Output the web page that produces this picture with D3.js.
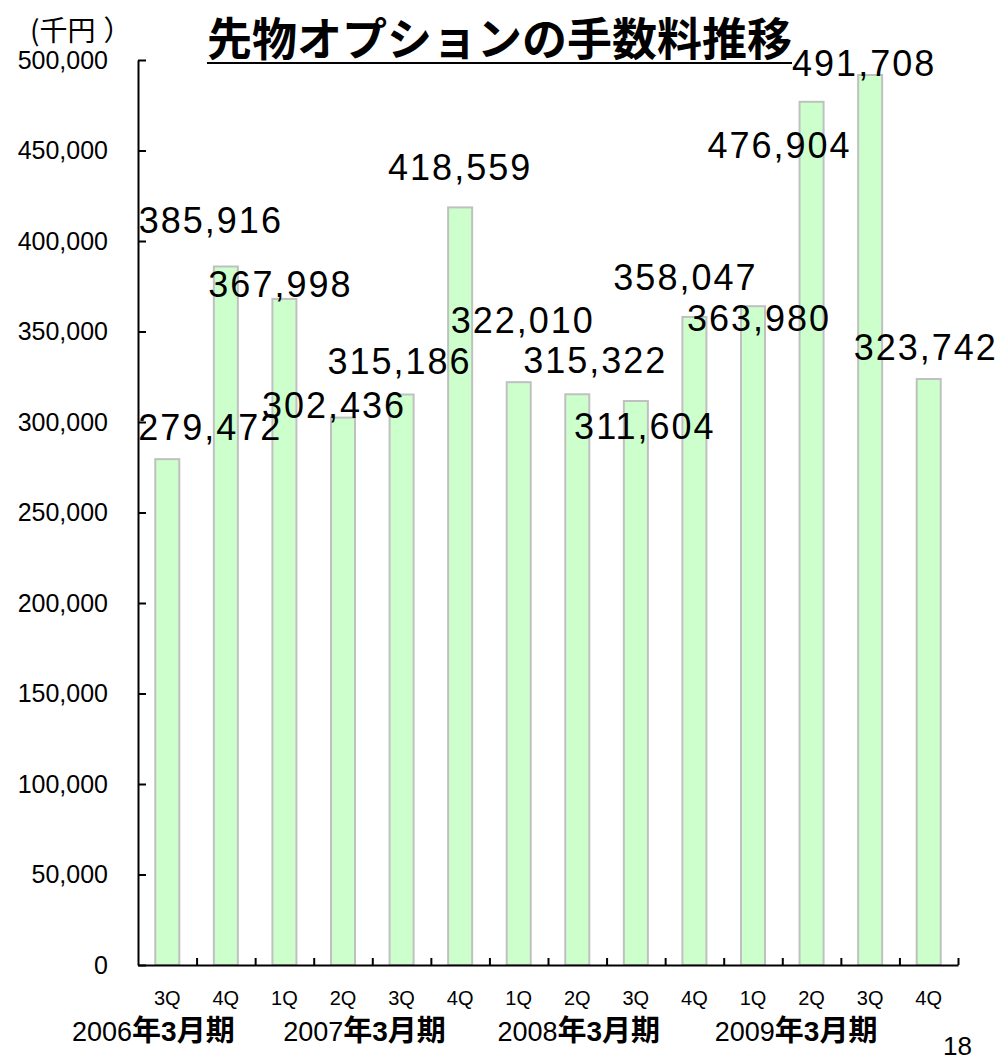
<!DOCTYPE html>
<meta charset="utf-8">
<style>
  body { margin: 0; background: #fff; }
  svg { display: block; }
</style>
<body>
<div id="chart"></div>
<script src="https://cdn.jsdelivr.net/npm/d3@7"></script>
<script>
// data
const quarters = ["3Q", "4Q", "1Q", "2Q", "3Q", "4Q", "1Q", "2Q", "3Q", "4Q", "1Q", "2Q", "3Q", "4Q"];
const fees = [279472, 385916, 367998, 302436, 315186, 418559, 322010, 315322, 311604, 358047, 363980, 476904, 491708, 323742];
const periods = ["2006", "2007", "2008", "2009"];
const periodFirstQuarter = [0, 2, 6, 10];
const yTicks = [0, 50000, 100000, 150000, 200000, 250000, 300000, 350000, 400000, 450000, 500000];

// label nudges (px), the source deck placed them by hand
const labelShift = [[43, -19], [-15, -33], [-4, -2], [-9, 0], [-2, -21], [0, -27], [4, -49],
                    [18, -21], [9, 38], [-9, -27], [6, 25], [-32, 56], [-6, 1], [-3, -19]];
const periodShift = [-66, 28, 8, -9];

const width = 1004, height = 1060,
      plotLeft = 138, plotRight = 958, plotTop = 60, plotBottom = 965;

const svg = d3.select("#chart").append("svg")
    .attr("width", width)
    .attr("height", height);

const latin = "'Liberation Sans', Arial, sans-serif",
      cjk = "'Noto Sans CJK JP', sans-serif";

const idx = d3.range(fees.length);

const x = d3.scaleBand()
    .domain(idx)
    .range([plotLeft, plotRight])
    .paddingInner(0.59)
    .paddingOuter(0.295);

const slot = d3.scaleLinear()
    .domain([0, fees.length])
    .range([plotLeft, plotRight]);

const y = d3.scaleLinear()
    .domain([0, 500000])
    .range([plotBottom, plotTop]);

// bars
svg.append("g").selectAll("rect")
    .data(idx)
    .enter().append("rect")
        .attr("x", i => x(i))
        .attr("y", i => y(fees[i]))
        .attr("width", x.bandwidth())
        .attr("height", i => y(0) - y(fees[i]))
        .style("fill", "#ccffcc")
        .style("stroke", "#c0c0c0")
        .style("stroke-width", 2);

// y axis
const yAxis = svg.append("g")
    .attr("transform", "translate(" + plotLeft + ",0)")
    .call(d3.axisLeft(y)
        .tickValues(yTicks)
        .tickFormat(d3.format(","))
        .tickSizeInner(-8)
        .tickSizeOuter(0)
        .tickPadding(30));
yAxis.select(".domain").style("stroke", "#000").style("stroke-width", 2);
yAxis.selectAll(".tick line").style("stroke", "#000").style("stroke-width", 2);
yAxis.selectAll("text")
    .style("font-family", latin)
    .style("font-size", "25px")
    .style("fill", "#000");

// x axis, ticks sit between the quarters
const xAxis = svg.append("g")
    .attr("transform", "translate(0," + plotBottom + ")")
    .call(d3.axisBottom(slot)
        .tickValues(d3.range(1, fees.length + 1))
        .tickFormat("")
        .tickSizeInner(-7)
        .tickSizeOuter(0));
xAxis.select(".domain").style("stroke", "#000").style("stroke-width", 2);
xAxis.selectAll(".tick line").style("stroke", "#000").style("stroke-width", 2);

svg.append("g").selectAll("text")
    .data(idx)
    .enter().append("text")
        .attr("x", i => x(i) + x.bandwidth() / 2)
        .attr("y", 1005)
        .attr("text-anchor", "middle")
        .style("font-family", latin)
        .style("font-size", "20px")
        .text(i => quarters[i]);

// fiscal period labels
const pl = svg.append("g").selectAll("text")
    .data(periods)
    .enter().append("text")
        .attr("x", (d, k) => slot(periodFirstQuarter[k]) + periodShift[k])
        .attr("y", 1041);
pl.append("tspan")
    .style("font-family", latin)
    .style("font-size", "27px")
    .text(d => d);
pl.append("tspan")
    .style("font-family", cjk)
    .style("font-size", "29px")
    .style("font-weight", "bold")
    .text("年");
pl.append("tspan")
    .style("font-family", latin)
    .style("font-size", "28px")
    .style("font-weight", "bold")
    .text("3");
pl.append("tspan")
    .style("font-family", cjk)
    .style("font-size", "29px")
    .style("font-weight", "bold")
    .text("月期");

// value labels
svg.append("g").selectAll("text")
    .data(idx)
    .enter().append("text")
        .attr("x", i => x(i) + x.bandwidth() / 2 + labelShift[i][0])
        .attr("y", i => y(fees[i]) + labelShift[i][1])
        .attr("text-anchor", "middle")
        .style("font-family", latin)
        .style("font-size", "36px")
        .style("letter-spacing", "2px")
        .style("fill", "#000")
        .text(i => d3.format(",")(fees[i]));

// title
const title = svg.append("text")
    .attr("x", 207)
    .attr("y", 56)
    .style("font-family", cjk)
    .style("font-weight", "bold")
    .style("font-size", "45px")
    .text("先物オプションの手数料推移");
const tw = title.node().getComputedTextLength();
svg.append("line")
    .attr("x1", 207)
    .attr("x2", 207 + tw)
    .attr("y1", 63)
    .attr("y2", 63)
    .style("stroke", "#000")
    .style("stroke-width", 2);

// unit
const unit = svg.append("text")
    .attr("x", 30)
    .attr("y", 41)
    .style("font-family", cjk)
    .style("font-size", "28px")
    .text("(千円");
unit.append("tspan")
    .attr("dx", 8)
    .text("）");

// page number
svg.append("text")
    .attr("x", 943)
    .attr("y", 1055)
    .style("font-family", latin)
    .style("font-size", "26px")
    .text("18");
</script>
</body>
